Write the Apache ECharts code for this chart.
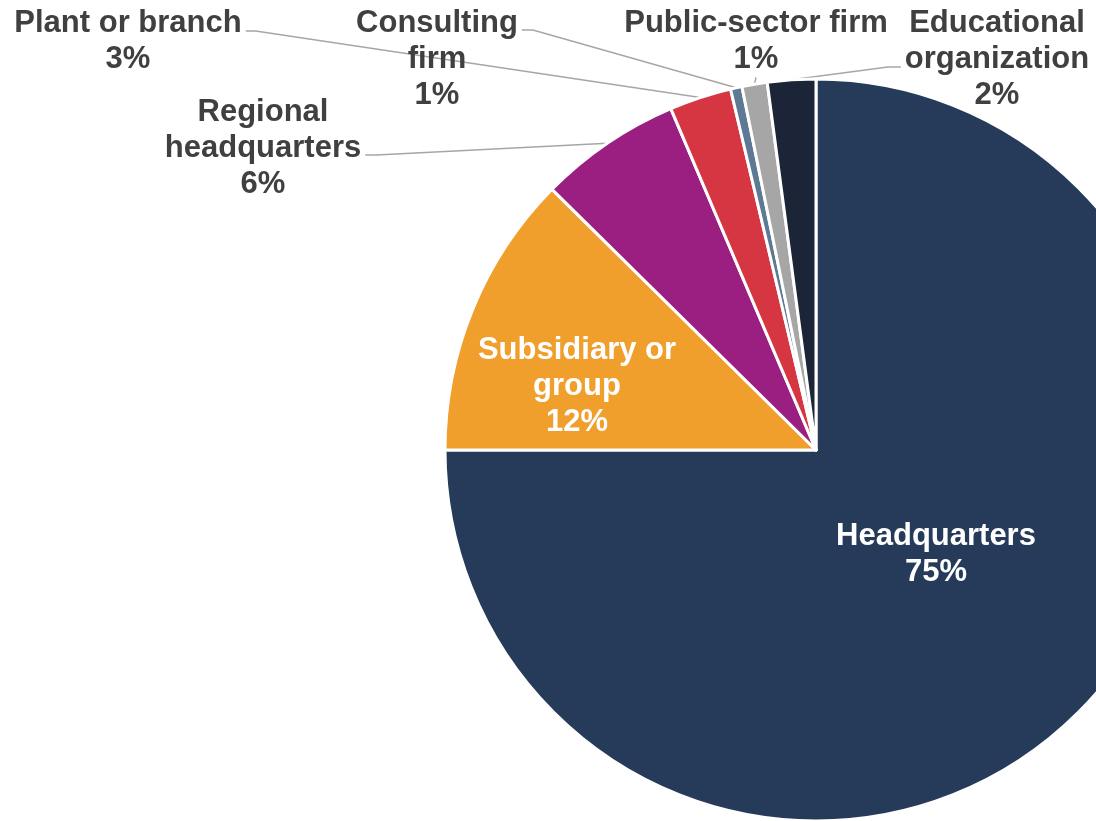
<!DOCTYPE html>
<html>
<head>
<meta charset="utf-8">
<script src="https://cdn.jsdelivr.net/npm/echarts@6/dist/echarts.min.js"></script>
<style>
  html, body { margin: 0; padding: 0; background: #ffffff; }
  #chart { width: 1096px; height: 821px; }
</style>
</head>
<body>
<div id="chart"></div>
<script>
// Respondent organisation types (share of responses, %)
const categories = [
  'Headquarters',
  'Subsidiary or\ngroup',
  'Regional\nheadquarters',
  'Plant or branch',
  'Consulting\nfirm',
  'Public-sector firm',
  'Educational\norganization'
];
const shares = [75.0, 12.4, 6.2, 2.7, 0.5, 1.1, 2.1];
const sliceColors = ['#253b59', '#f09e2c', '#9b1f80', '#d53641', '#5e7994', '#a6a6a6', '#1b2537'];

const LINE_H = 36;

// Label blocks: (cx, cy) is the centre of the text block; for outside labels
// attachY is the height at which the leader line meets the side of the block.
const labelPlacement = [
  { cx: 936, cy: 554.5, inside: true },
  { cx: 577, cy: 386.5, inside: true },
  { cx: 263, cy: 148, attachY: 155, len2: 11 },
  { cx: 128, cy: 41.5, attachY: 31, len2: 10 },
  { cx: 437, cy: 59, attachY: 30, len2: 11 },
  { cx: 756, cy: 41.5, attachY: 41.5, len2: 0 },
  { cx: 997, cy: 59, attachY: 67, len2: 13 }
];

function lineCount(i) {
  return categories[i].split('\n').length + 1;
}

// Uneven top/bottom padding moves the middle of the label box (where the
// leader line joins) away from the middle of the text itself.
function labelPadding(i) {
  const p = labelPlacement[i];
  const d = 2 * (p.attachY - p.cy);
  return d >= 0 ? [0, 4, d, 4] : [-d, 4, 0, 4];
}

const chart = echarts.init(document.getElementById('chart'), null, { renderer: 'canvas' });

const pieData = categories.map(function (name, i) {
  const p = labelPlacement[i];
  return {
    name: name,
    value: shares[i],
    itemStyle: { color: sliceColors[i] },
    label: p.inside
      ? { color: '#ffffff' }
      : { color: '#404040', padding: labelPadding(i), backgroundColor: 'rgba(255,255,255,0)' },
    labelLine: p.inside ? { show: false } : { show: true, length2: p.len2 }
  };
});

chart.setOption({
  animation: false,
  backgroundColor: '#ffffff',
  series: [{
    type: 'pie',
    center: [816, 450],
    radius: 371,
    startAngle: 90,
    clockwise: true,
    avoidLabelOverlap: false,
    itemStyle: { borderColor: '#ffffff', borderWidth: 3 },
    label: {
      show: true,
      position: 'outside',
      formatter: function (p) { return p.name + '\n' + Math.round(p.percent) + '%'; },
      fontFamily: '"Liberation Sans", Arial, sans-serif',
      fontWeight: 'bold',
      fontSize: 31,
      lineHeight: LINE_H
    },
    labelLine: {
      show: true,
      length: 10,
      length2: 10,
      smooth: false,
      lineStyle: { color: '#a6a6a6', width: 1.5 }
    },
    labelLayout: function (params) {
      const i = params.dataIndex;
      const p = labelPlacement[i];
      if (p.inside) {
        return { x: p.cx, y: p.cy, align: 'center', verticalAlign: 'middle' };
      }
      const textTop = p.cy - lineCount(i) * LINE_H / 2;
      return { x: p.cx, y: textTop - labelPadding(i)[0], align: 'center', verticalAlign: 'top' };
    },
    emphasis: { disabled: true },
    data: pieData
  }]
});
</script>
</body>
</html>
